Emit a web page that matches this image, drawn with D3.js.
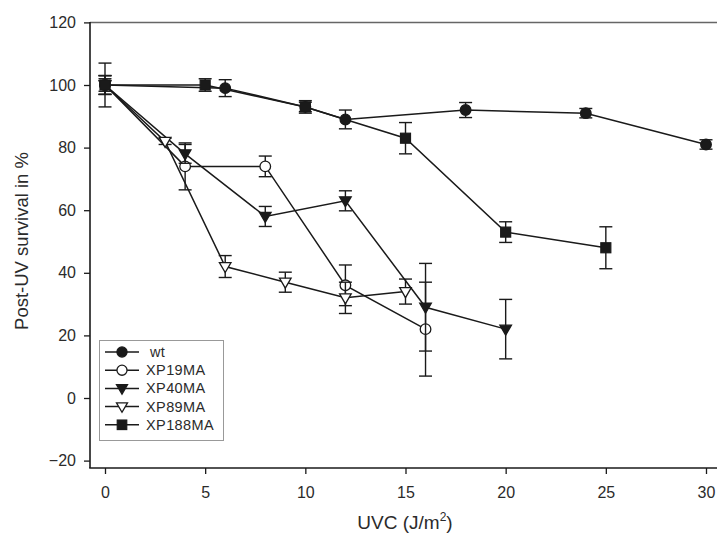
<!DOCTYPE html>
<html>
<head>
<meta charset="utf-8">
<script src="https://cdn.jsdelivr.net/npm/d3@7"></script>
<style>
  html, body { margin: 0; padding: 0; background: #fff; }
  svg { display: block; font-family: "Liberation Sans", Arial, sans-serif; }
</style>
</head>
<body>
<svg id="chart" width="717" height="543"></svg>
<script>
// UVC dose (J/m²) per cell line
const wtDose      = [0, 6, 10, 12, 18, 24, 30];
const wtSurv      = [100, 99, 93, 89, 92, 91, 81];
const wtErr       = [7, 2.7, 2, 3, 2.4, 1.5, 1.5];

const xp19Dose    = [0, 4, 8, 12, 16];
const xp19Surv    = [100, 74, 74, 36, 22];
const xp19Err     = [3, 7.5, 3.3, 6.5, 15];

const xp40Dose    = [0, 4, 8, 12, 16, 20];
const xp40Surv    = [100, 78, 58, 63, 29, 22];
const xp40Err     = [3, 3, 3.2, 3.2, 14, 9.5];

const xp89Dose    = [0, 3, 6, 9, 12, 15];
const xp89Surv    = [100, 82, 42, 37, 32, 34];
const xp89Err     = [2, 1, 3.5, 3.2, 5, 4];

const xp188Dose   = [0, 5, 10, 15, 20, 25];
const xp188Surv   = [100, 100, 93, 83, 53, 48];
const xp188Err    = [3, 2, 1.5, 5, 3.3, 6.7];

const seriesNames = ["wt", "XP19MA", "XP40MA", "XP89MA", "XP188MA"];
const xTicks = [0, 5, 10, 15, 20, 25, 30];
const yTicks = [-20, 0, 20, 40, 60, 80, 100, 120];

const series = [
  { name: seriesNames[0], dose: wtDose,    surv: wtSurv,    err: wtErr,    shape: "circle",   fill: true },
  { name: seriesNames[1], dose: xp19Dose,  surv: xp19Surv,  err: xp19Err,  shape: "circle",   fill: false },
  { name: seriesNames[2], dose: xp40Dose,  surv: xp40Surv,  err: xp40Err,  shape: "triangle", fill: true },
  { name: seriesNames[3], dose: xp89Dose,  surv: xp89Surv,  err: xp89Err,  shape: "triangle", fill: false },
  { name: seriesNames[4], dose: xp188Dose, surv: xp188Surv, err: xp188Err, shape: "square",   fill: true }
];

const svg = d3.select("#chart");
const ink = "#1a1a1a";
const textCol = "#2b2b2b";

const x = d3.scaleLinear().domain([0, 30]).range([105, 706]);
const y = d3.scaleLinear().domain([-20, 120]).range([460.6, 22.4]);

const axisLeftX = 90, axisBottomY = 468;

// top frame line
svg.append("line")
  .attr("x1", axisLeftX).attr("x2", 717).attr("y1", 22.5).attr("y2", 22.5)
  .attr("stroke", "#666").attr("stroke-width", 1.5);

// y axis
const yAxis = svg.append("g")
  .attr("transform", `translate(${axisLeftX},0)`)
  .call(d3.axisLeft(y).tickValues(yTicks).tickSize(6).tickPadding(8).tickFormat(d3.format("d")));
yAxis.select(".domain").remove();
yAxis.selectAll(".tick line").attr("stroke", ink).attr("stroke-width", 1.3);
yAxis.selectAll(".tick text").attr("fill", textCol)
  .style("font-size", "16px").style("font-family", "Liberation Sans, Arial, sans-serif");
svg.append("line")
  .attr("x1", axisLeftX).attr("x2", axisLeftX).attr("y1", 22).attr("y2", axisBottomY)
  .attr("stroke", ink).attr("stroke-width", 1.6);

// x axis
const xAxis = svg.append("g")
  .attr("transform", `translate(0,${axisBottomY})`)
  .call(d3.axisBottom(x).tickValues(xTicks).tickSize(6).tickPadding(13).tickFormat(d3.format("d")));
xAxis.select(".domain").remove();
xAxis.selectAll(".tick line").attr("stroke", ink).attr("stroke-width", 1.3);
xAxis.selectAll(".tick text").attr("fill", textCol)
  .style("font-size", "16px").style("font-family", "Liberation Sans, Arial, sans-serif");
svg.append("line")
  .attr("x1", axisLeftX - 0.8).attr("x2", 717).attr("y1", axisBottomY).attr("y2", axisBottomY)
  .attr("stroke", ink).attr("stroke-width", 1.6);

// axis titles
svg.append("text")
  .attr("transform", "translate(28,241) rotate(-90)")
  .attr("text-anchor", "middle")
  .attr("fill", textCol).style("font-size", "18.5px")
  .text("Post-UV survival in %");

const xt = svg.append("text")
  .attr("x", 405).attr("y", 529)
  .attr("text-anchor", "middle")
  .attr("fill", textCol).style("font-size", "19px");
xt.append("tspan").text("UVC (J/m");
xt.append("tspan").attr("dy", -8).style("font-size", "12px").text("2");
xt.append("tspan").attr("dy", 8).text(")");

// marker drawing
function marker(g, s, cx, cy, scale = 1) {
  const fill = s.fill ? ink : "#fff";
  if (s.shape === "circle") {
    g.append("circle").attr("cx", cx).attr("cy", cy).attr("r", 5.3 * scale)
      .attr("fill", fill).attr("stroke", ink).attr("stroke-width", 1.3);
  } else if (s.shape === "square") {
    const h = 5 * scale;
    g.append("rect").attr("x", cx - h).attr("y", cy - h).attr("width", 2 * h).attr("height", 2 * h)
      .attr("fill", fill).attr("stroke", ink).attr("stroke-width", 1.2);
  } else {
    const w = 5.8 * scale, top = 4 * scale, bot = 6 * scale;
    g.append("path")
      .attr("d", `M${cx - w},${cy - top}L${cx + w},${cy - top}L${cx},${cy + bot}Z`)
      .attr("fill", fill).attr("stroke", ink).attr("stroke-width", 1.3)
      .attr("stroke-linejoin", "miter");
  }
}

const line = d3.line().x(d => x(d[0])).y(d => y(d[1]));
const capHalf = 6.5;

// connecting lines first
series.forEach(s => {
  const pts = s.dose.map((d, i) => [d, s.surv[i]]);
  svg.append("path").datum(pts)
    .attr("d", line).attr("fill", "none")
    .attr("stroke", ink).attr("stroke-width", 1.5);
});

// error bars and markers
series.forEach(s => {
  const g = svg.append("g");
  s.dose.forEach((d, i) => {
    const cx = x(d);
    const yHi = y(s.surv[i] + s.err[i]);
    const yLo = y(s.surv[i] - s.err[i]);
    g.append("line").attr("x1", cx).attr("x2", cx).attr("y1", yHi).attr("y2", yLo)
      .attr("stroke", ink).attr("stroke-width", 1.4);
    [yHi, yLo].forEach(yy => {
      g.append("line").attr("x1", cx - capHalf).attr("x2", cx + capHalf).attr("y1", yy).attr("y2", yy)
        .attr("stroke", ink).attr("stroke-width", 1.4);
    });
  });
  s.dose.forEach((d, i) => marker(g, s, x(d), y(s.surv[i])));
});

// legend
const legend = svg.append("g");
legend.append("rect")
  .attr("x", 99.5).attr("y", 340.5).attr("width", 124).attr("height", 100)
  .attr("fill", "#fff").attr("stroke", "#999").attr("stroke-width", 1);
series.forEach((s, i) => {
  const ly = 352 + i * 18.2;
  legend.append("line").attr("x1", 105).attr("x2", 139).attr("y1", ly).attr("y2", ly)
    .attr("stroke", ink).attr("stroke-width", 1.5);
  marker(legend, s, 122, ly, 0.95);
  legend.append("text").attr("x", i === 0 ? 150 : 146).attr("y", ly + 5)
    .attr("fill", textCol).style("font-size", "14.5px").style("letter-spacing", "0.4px")
    .text(s.name);
});
</script>
</body>
</html>
